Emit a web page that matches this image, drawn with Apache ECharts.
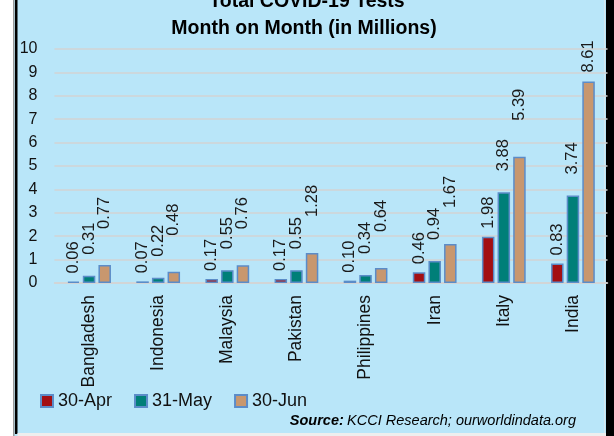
<!DOCTYPE html>
<html>
<head>
<meta charset="utf-8">
<script src="https://cdn.jsdelivr.net/npm/echarts@6/dist/echarts.min.js"></script>
<style>
html,body{margin:0;padding:0;background:#fff;}
#c{width:614px;height:436px;}
</style>
</head>
<body>
<div id="c"></div>
<script>
const categories = ['Bangladesh','Indonesia','Malaysia','Pakistan','Philippines','Iran','Italy','India'];
const seriesNames = ['30-Apr','31-May','30-Jun'];
const apr = [0.06, 0.07, 0.17, 0.17, 0.10, 0.46, 1.98, 0.83];
const may = [0.31, 0.22, 0.55, 0.55, 0.34, 0.94, 3.88, 3.74];
const jun = [0.77, 0.48, 0.76, 1.28, 0.64, 1.67, 5.39, 8.61];
const yTicks = [0,1,2,3,4,5,6,7,8,9,10];
const titleText = 'Total COVID-19 Tests';
const subtitleText = 'Month on Month (in Millions)';

const FONT = '"Liberation Sans", Arial, sans-serif';
const colors = ['#A30F12', '#007F78', '#C8976E'];
const labelDist = [8, 21, 36];

function mkSeries(name, vals, idx) {
  return {
    name: name,
    type: 'bar',
    barWidth: 12.5,
    barGap: '25%',
    itemStyle: { color: colors[idx], borderColor: '#5B8CC8', borderWidth: 1.5 },
    label: {
      show: true, position: 'top', rotate: 90, align: 'left', verticalAlign: 'middle',
      distance: labelDist[idx], fontFamily: FONT, fontSize: 16.5, color: '#1a1a1a',
      formatter: p => Number(p.value).toFixed(2)
    },
    data: vals.map((v, i) => {
      // clamp label of the tallest bar inside plot area (as in the reference)
      if (idx === 2 && v > 8) return { value: v, label: { distance: 9 } };
      return v;
    })
  };
}

const chart = echarts.init(document.getElementById('c'), null, { renderer: 'canvas' });
chart.setOption({
  backgroundColor: '#B9E6F9',
  animation: false,
  grid: { left: 54.5, right: 6.5, top: 49, bottom: 153 },
  legend: {
    data: seriesNames, left: 40, top: 392, padding: 0,
    itemWidth: 12, itemHeight: 12, itemGap: 22, icon: 'rect',
    textStyle: { fontFamily: FONT, fontSize: 18, color: '#111' }
  },
  xAxis: {
    type: 'category', data: categories,
    axisLine: { lineStyle: { color: '#D3D3D3', width: 1.5 } },
    axisTick: { show: false },
    axisLabel: { rotate: 90, margin: 12, fontFamily: FONT, fontSize: 17.5, color: '#111', interval: 0 }
  },
  yAxis: {
    type: 'value', min: yTicks[0], max: yTicks[yTicks.length - 1], interval: 1,
    axisLine: { show: false }, axisTick: { show: false },
    splitLine: { lineStyle: { color: '#D3D3D3', width: 1.5 } },
    axisLabel: { margin: 17, fontFamily: FONT, fontSize: 16, color: '#111' }
  },
  series: [mkSeries(seriesNames[0], apr, 0), mkSeries(seriesNames[1], may, 1), mkSeries(seriesNames[2], jun, 2)],
  graphic: [
    { type: 'rect', shape: { x: 0, y: 0, width: 13, height: 436 }, style: { fill: '#ffffff' } },
    { type: 'rect', shape: { x: 13, y: 0, width: 1.5, height: 436 }, style: { fill: '#9a9a9a' } },
    { type: 'rect', shape: { x: 15, y: 0, width: 2.5, height: 434 }, style: { fill: '#000000' } },
    { type: 'rect', shape: { x: 604, y: 0, width: 1, height: 434 }, style: { fill: '#d8e8ee' } },
    { type: 'rect', shape: { x: 606, y: 0, width: 8, height: 436 }, style: { fill: '#000000' } },
    { type: 'rect', shape: { x: 17.5, y: 433, width: 588.5, height: 3 }, style: { fill: '#eeeeee' } },
    { type: 'text', x: 307, y: 2, style: { text: titleText, fontFamily: FONT, fontSize: 19.5, fontWeight: 'bold', fill: '#000', align: 'center', verticalAlign: 'middle' } },
    { type: 'text', x: 304, y: 29, style: { text: subtitleText, fontFamily: FONT, fontSize: 19.5, fontWeight: 'bold', fill: '#000', align: 'center', verticalAlign: 'middle' } },
    { type: 'text', x: 576, y: 421, style: {
        text: '{b|Source:} {i|KCCI Research; ourworldindata.org}', align: 'right', verticalAlign: 'middle',
        rich: {
          b: { fontFamily: FONT, fontSize: 14.5, fontWeight: 'bold', fontStyle: 'italic', fill: '#000' },
          i: { fontFamily: FONT, fontSize: 14.5, fontStyle: 'italic', fill: '#000' }
        } } }
  ]
});
</script>
</body>
</html>
